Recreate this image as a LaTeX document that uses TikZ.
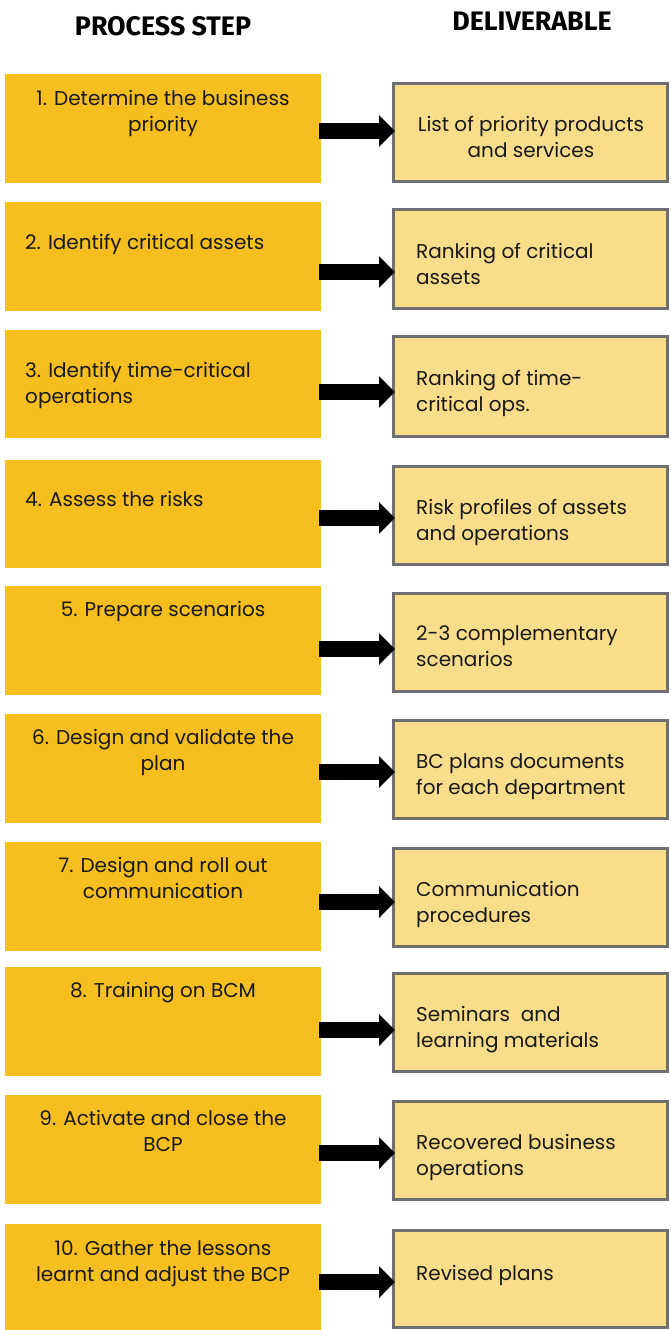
\documentclass[tikz,border=0pt]{standalone}
\usepackage{fontspec}
\setmainfont{Poppins}
\newfontfamily\headfont{Fira Sans}
\usetikzlibrary{arrows.meta}

\definecolor{stepfill}{HTML}{F6BE1E}
\definecolor{delivfill}{HTML}{F9DD8B}
\definecolor{delivedge}{HTML}{6F6F6F}

\tikzset{
  stepbox/.style={fill=stepfill, draw=none, inner sep=0pt, minimum width=316pt},
  delivbox/.style={fill=delivfill, draw=delivedge, line width=3pt, inner sep=0pt, minimum width=274pt},
  bodytext/.style={font=\fontsize{20}{26}\selectfont, inner sep=0pt, text=black!90},
  headtext/.style={font=\headfont\bfseries\fontsize{26.8}{30}\selectfont, inner sep=0pt},
  bigarrow/.style={line width=16pt, -{Triangle[length=16pt,width=31pt]}, shorten <=-2pt, shorten >=-3pt},
}

\begin{document}
\begin{tikzpicture}[x=1pt,y=-1pt]
\useasboundingbox (0,0) rectangle (671,1330);

% column headings
\node[headtext, anchor=base] (h1) at (163,36) {PROCESS STEP};
\node[headtext, anchor=base] (h2) at (532,31) {DELIVERABLE};

% process steps (left column)
\node[stepbox, minimum height=109pt] (L1)  at (163,128.5)  {};
\node[stepbox, minimum height=109pt] (L2)  at (163,256.5)  {};
\node[stepbox, minimum height=108pt] (L3)  at (163,384)    {};
\node[stepbox, minimum height=108pt] (L4)  at (163,514)    {};
\node[stepbox, minimum height=109pt] (L5)  at (163,640.5)  {};
\node[stepbox, minimum height=109pt] (L6)  at (163,768.5)  {};
\node[stepbox, minimum height=109pt] (L7)  at (163,896.5)  {};
\node[stepbox, minimum height=109pt] (L8)  at (163,1021.5) {};
\node[stepbox, minimum height=109pt] (L9)  at (163,1149.5) {};
\node[stepbox, minimum height=106pt] (L10) at (163,1277)   {};

% deliverables (right column)
\node[delivbox, minimum height=98pt] (R1)  at (530.5,132.5)  {};
\node[delivbox, minimum height=99pt] (R2)  at (530.5,259)    {};
\node[delivbox, minimum height=100pt] (R3) at (530.5,386.5)  {};
\node[delivbox, minimum height=98pt] (R4)  at (530.5,515.5)  {};
\node[delivbox, minimum height=98pt] (R5)  at (530.5,642.5)  {};
\node[delivbox, minimum height=98pt] (R6)  at (530.5,769.5)  {};
\node[delivbox, minimum height=98pt] (R7)  at (530.5,897.5)  {};
\node[delivbox, minimum height=98pt] (R8)  at (530.5,1022.5) {};
\node[delivbox, minimum height=98pt] (R9)  at (530.5,1150.5) {};
\node[delivbox, minimum height=97pt] (R10) at (530.5,1279)   {};

% step texts (base anchor = baseline of the last line)
\node[bodytext, anchor=base, align=center] (t1) at (163,131) {1. Determine the business\\priority};
\node[bodytext, anchor=base west, align=left] (t2) at (25,249) {2. Identify critical assets};
\node[bodytext, anchor=base west, align=left] (t3) at (25,403) {3. Identify time-critical\\operations};
\node[bodytext, anchor=base west, align=left] (t4) at (25,506) {4. Assess the risks};
\node[bodytext, anchor=base, align=center] (t5) at (163,616) {5. Prepare scenarios};
\node[bodytext, anchor=base, align=center] (t6) at (163,770) {6. Design and validate the\\plan};
\node[bodytext, anchor=base, align=center] (t7) at (163,898) {7. Design and roll out\\communication};
\node[bodytext, anchor=base, align=center] (t8) at (163,997) {8. Training on BCM};
\node[bodytext, anchor=base, align=center] (t9) at (163,1151) {9. Activate and close the\\BCP};
\node[bodytext, anchor=base, align=center] (t10) at (163,1281) {10. Gather the lessons\\learnt and adjust the BCP};

% deliverable texts
\node[bodytext, anchor=base, align=center] (d1) at (531,157) {List of priority products\\and services};
\node[bodytext, anchor=base west, align=left] (d2) at (416,284) {Ranking of critical\\assets};
\node[bodytext, anchor=base west, align=left] (d3) at (416,411) {Ranking of time-\\critical ops.};
\node[bodytext, anchor=base west, align=left] (d4) at (416,540) {Risk profiles of assets\\and operations};
\node[bodytext, anchor=base west, align=left] (d5) at (416,666) {2-3 complementary\\scenarios};
\node[bodytext, anchor=base west, align=left] (d6) at (416,794) {BC plans documents\\for each department};
\node[bodytext, anchor=base west, align=left] (d7) at (416,922) {Communication\\procedures};
\node[bodytext, anchor=base west, align=left] (d8) at (416,1047) {Seminars\ \ and\\learning materials};
\node[bodytext, anchor=base west, align=left] (d9) at (416,1175) {Recovered business\\operations};
\node[bodytext, anchor=base west, align=left] (d10) at (416,1280) {Revised plans};

% arrows from each step to its deliverable
\foreach \k/\y in {1/131, 2/272, 3/392, 4/518, 5/649, 6/772, 7/902, 8/1030, 9/1153, 10/1282}{
  \draw[bigarrow] (L\k.east |- 0,\y) -- (R\k.west |- 0,\y);
}
\end{tikzpicture}
\end{document}
